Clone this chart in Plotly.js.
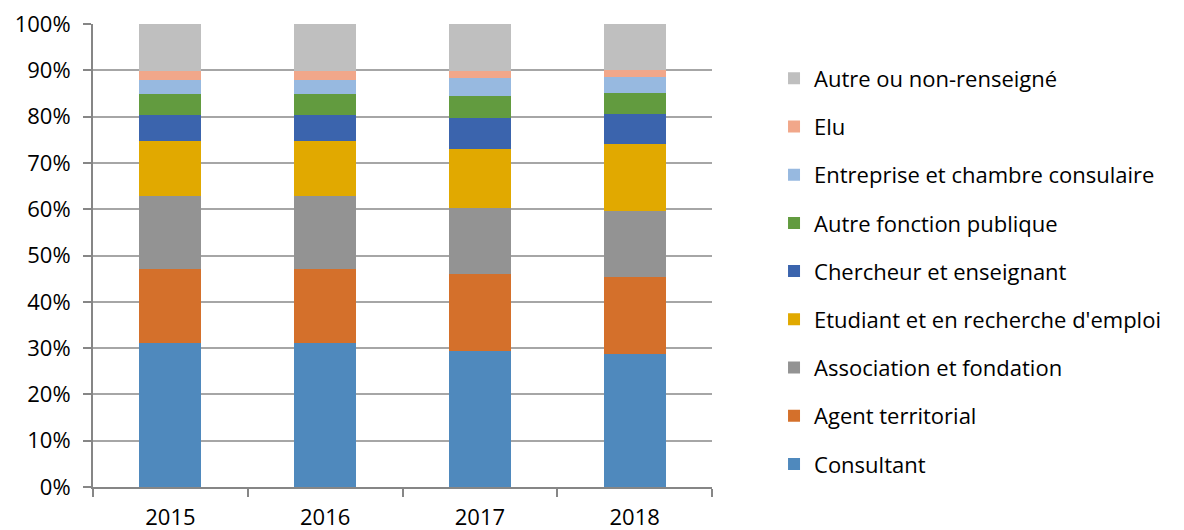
<!DOCTYPE html>
<html><head><meta charset="utf-8">
<script src="https://cdn.plot.ly/plotly-3.0.1.min.js"></script>
<style>body{margin:0;background:#fff}#chart{width:1184px;height:530px}</style>
</head><body><div id="chart"></div>
<script>
const years = ['2015','2016','2017','2018'];
const consultant = [31.0, 31.0, 29.4, 28.7];
const agentTerritorial = [16.1, 16.1, 16.5, 16.7];
const association = [15.8, 15.8, 14.3, 14.2];
const etudiant = [11.8, 11.8, 12.8, 14.4];
const chercheur = [5.6, 5.6, 6.8, 6.5];
const autreFonction = [4.6, 4.6, 4.7, 4.6];
const entreprise = [3.0, 3.0, 3.8, 3.5];
const elu = [2.0, 1.9, 1.5, 1.5];
const autre = [10.1, 10.2, 10.2, 9.9];

const seriesNames = ['Consultant','Agent territorial','Association et fondation',"Etudiant et en recherche d'emploi",'Chercheur et enseignant','Autre fonction publique','Entreprise et chambre consulaire','Elu','Autre ou non-renseigné'];
const seriesValues = [consultant, agentTerritorial, association, etudiant, chercheur, autreFonction, entreprise, elu, autre];
const colors = ['#4f89bd','#d4702b','#939393','#e1a900','#3b64ad','#629b3f','#97b9e0','#f1a78a','#bfbfbf'];

const traces = seriesNames.map((n,i)=>({
  type:'bar', name:n, x:years, y:seriesValues[i].map(v=>v/100),
  marker:{color:colors[i], line:{width:0}}, legendgroup:'g'+i,
  legendrank: 100 - i,
  hoverinfo:'name+y'
}));

const layout = {
  width:1184, height:530,
  margin:{l:93, r:472, t:24, b:43},
  barmode:'stack', bargap:0.6,
  paper_bgcolor:'#fff', plot_bgcolor:'#fff',
  font:{family:'"Open Sans", sans-serif', size:22, color:'#000'},
  xaxis:{type:'category', showline:true, linecolor:'#868686', linewidth:2,
         ticks:'outside', tickson:'boundaries', ticklen:8, tickcolor:'#868686', tickwidth:2,
         ticklabelstandoff:10,
         showgrid:false, tickfont:{size:22, color:'#000'}},
  yaxis:{range:[0,1], tickformat:'.0%', dtick:0.1, showline:true, linecolor:'#868686', linewidth:2,
         ticks:'outside', ticklen:8, tickcolor:'#868686', tickwidth:2, ticklabelstandoff:8,
         gridcolor:'#a6a6a6', gridwidth:2, zeroline:false, tickfont:{size:22, color:'#000'}},
  legend:{x:1.1002, xanchor:'left', y:0.9276, yanchor:'top', traceorder:'grouped',
          tracegroupgap:16.6, font:{size:22, color:'#000'}, itemwidth:30, bgcolor:'rgba(0,0,0,0)'},
  showlegend:true
};
Plotly.newPlot('chart', traces, layout, {displayModeBar:false, staticPlot:true});
</script></body></html>
